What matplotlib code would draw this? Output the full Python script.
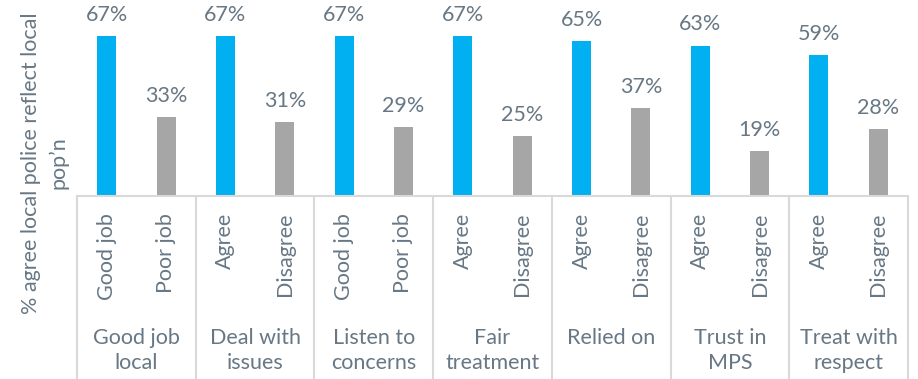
import matplotlib as mpl
mpl.use("Agg")
import matplotlib.pyplot as plt
from matplotlib.lines import Line2D

plt.rcParams["font.family"] = ["Lato", "DejaVu Sans"]

groups = ["Good job\nlocal", "Deal with\nissues", "Listen to\nconcerns", "Fair\ntreatment",
          "Relied on\n", "Trust in\nMPS", "Treat with\nrespect"]
answers = [("Good job", "Poor job"), ("Agree", "Disagree"), ("Good job", "Poor job"),
           ("Agree", "Disagree"), ("Agree", "Disagree"), ("Agree", "Disagree"),
           ("Agree", "Disagree")]
positive = [0.67, 0.67, 0.67, 0.67, 0.65, 0.63, 0.59]
negative = [0.33, 0.31, 0.29, 0.25, 0.37, 0.19, 0.28]

blue = "#00B0F0"
grey = "#A6A6A6"
text_col = "#677784"
line_col = "#D9D9D9"
fs = 15.5

W, H = 918, 379
fig = plt.figure(figsize=(W / 100, H / 100), dpi=100)
ax = fig.add_axes([77 / W, (H - 196) / H, (908 - 77) / W, 191 / H])

xs, vals, cols, labs = [], [], [], []
for i in range(len(groups)):
    xs += [2 * i, 2 * i + 1]
    vals += [positive[i], negative[i]]
    cols += [blue, grey]
    labs += list(answers[i])

ax.bar(xs, vals, width=0.32, color=cols)
ax.set_xlim(-0.5, len(xs) - 0.5)
ax.set_ylim(0, 0.80)
ax.axis("off")

for x, v in zip(xs, vals):
    ax.annotate(f"{v:.0%}", (x, v), xytext=(0, 8), textcoords="offset points",
                ha="center", va="bottom", fontsize=fs, color=text_col)

# baseline
ax.add_line(Line2D([0, 1], [0, 0], transform=ax.transAxes, color=line_col,
                   lw=1.5, clip_on=False))
# group separators
for i in range(len(groups) + 1):
    ax.add_line(Line2D([2 * i - 0.5, 2 * i - 0.5], [0, -1.2],
                       transform=ax.get_xaxis_transform(), color=line_col,
                       lw=1.5, clip_on=False))

for x, lab in zip(xs, labs):
    ax.annotate(lab, (x, 0), xycoords=("data", "axes fraction"), xytext=(0, -12),
                textcoords="offset points", rotation=90, ha="center", va="top",
                fontsize=fs, color=text_col)

for i, g in enumerate(groups):
    ax.annotate(g, (2 * i + 0.5, 0), xycoords=("data", "axes fraction"),
                xytext=(0, -111), textcoords="offset points", ha="center",
                va="center", multialignment="center", fontsize=fs,
                color=text_col, linespacing=1.32)

fig.text(45 / W, (H - 163) / H, "% agree local police reflect local\npop\u2019n",
         rotation=90, ha="center", va="center", multialignment="center",
         fontsize=fs, color=text_col, linespacing=1.45)

fig.savefig("out.png", dpi=100)
